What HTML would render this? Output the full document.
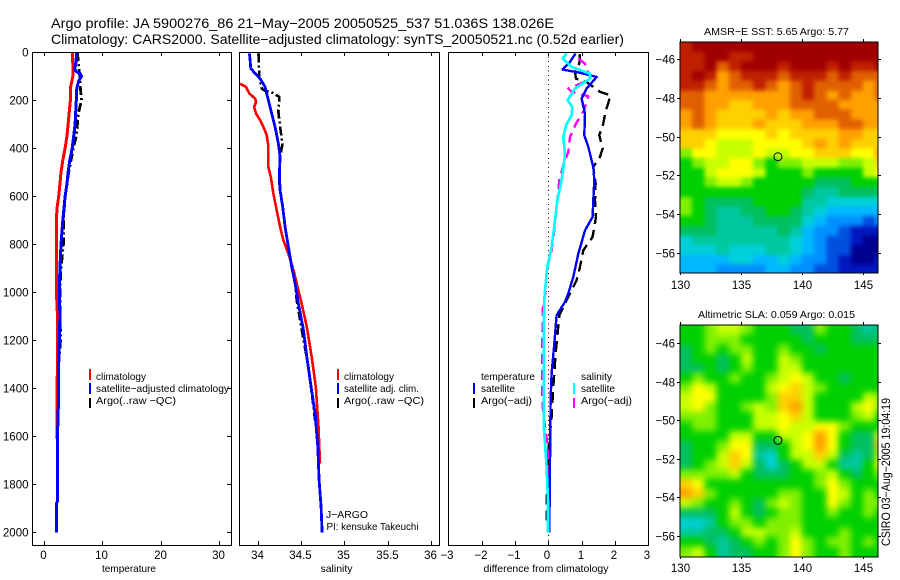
<!DOCTYPE html>
<html lang="en">
<head>
<meta charset="utf-8">
<title>Argo profile 5900276_86</title>
<style>
html,body{margin:0;padding:0;background:#fff;}
svg{display:block;}
text{font-family:"Liberation Sans",sans-serif;fill:#000;}
.t10{font-size:10.5px;}
.t11{font-size:11.5px;}
.t14{font-size:14px;}
</style>
</head>
<body>
<svg id="chart" xmlns="http://www.w3.org/2000/svg" width="900" height="580" viewBox="0 0 900 580">
  <rect x="0" y="0" width="900" height="580" fill="#fff"/>
  <text class="t14" x="51" y="28" textLength="503" lengthAdjust="spacingAndGlyphs">Argo profile: JA 5900276_86 21−May−2005 20050525_537 51.036S 138.026E</text>
  <text class="t14" x="51" y="44" textLength="573" lengthAdjust="spacingAndGlyphs">Climatology: CARS2000. Satellite−adjusted climatology: synTS_20050521.nc (0.52d earlier)</text>

  <g id="panels"></g>
  <g id="maps"></g>

  <text class="t10" x="129" y="572" text-anchor="middle" textLength="54" lengthAdjust="spacingAndGlyphs">temperature</text>
  <text class="t10" x="336.5" y="572" text-anchor="middle">salinity</text>
  <text class="t10" x="546" y="572" text-anchor="middle" textLength="125" lengthAdjust="spacingAndGlyphs">difference from climatology</text>

  <g>
    <rect x="89" y="369" width="2" height="11" fill="#f00"/>
    <rect x="89" y="383" width="2" height="11" fill="#00f"/>
    <rect x="89" y="398" width="2" height="10" fill="#000"/>
    <text class="t10" x="96" y="380" textLength="50" lengthAdjust="spacingAndGlyphs">climatology</text>
    <text class="t10" x="96" y="392" textLength="133" lengthAdjust="spacingAndGlyphs">satellite−adjusted climatology</text>
    <text class="t10" x="96" y="404" textLength="80" lengthAdjust="spacingAndGlyphs">Argo(..raw −QC)</text>
  </g>
  <g>
    <rect x="337" y="369" width="2" height="11" fill="#f00"/>
    <rect x="337" y="383" width="2" height="11" fill="#00f"/>
    <rect x="337" y="398" width="2" height="10" fill="#000"/>
    <text class="t10" x="344" y="380" textLength="50" lengthAdjust="spacingAndGlyphs">climatology</text>
    <text class="t10" x="344" y="392" textLength="75" lengthAdjust="spacingAndGlyphs">satellite adj. clim.</text>
    <text class="t10" x="344" y="404" textLength="80" lengthAdjust="spacingAndGlyphs">Argo(..raw −QC)</text>
    <text class="t10" x="326" y="518" textLength="42" lengthAdjust="spacingAndGlyphs">J−ARGO</text>
    <text class="t10" x="326.5" y="530" textLength="92" lengthAdjust="spacingAndGlyphs">PI: kensuke Takeuchi</text>
  </g>
  <g>
    <text class="t10" x="481" y="380" textLength="54" lengthAdjust="spacingAndGlyphs">temperature</text>
    <rect x="473" y="383" width="2" height="11" fill="#00f"/>
    <rect x="473" y="398" width="2" height="10" fill="#000"/>
    <text class="t10" x="481" y="392" textLength="34" lengthAdjust="spacingAndGlyphs">satellite</text>
    <text class="t10" x="481" y="404" textLength="51" lengthAdjust="spacingAndGlyphs">Argo(−adj)</text>
    <text class="t10" x="581" y="380" textLength="31" lengthAdjust="spacingAndGlyphs">salinity</text>
    <rect x="573" y="383" width="2" height="11" fill="#0ff"/>
    <rect x="573" y="398" width="2" height="10" fill="#f0f"/>
    <text class="t10" x="581" y="392" textLength="34" lengthAdjust="spacingAndGlyphs">satellite</text>
    <text class="t10" x="581" y="404" textLength="51" lengthAdjust="spacingAndGlyphs">Argo(−adj)</text>
  </g>

  <text class="t10" x="776.5" y="35" text-anchor="middle" textLength="145" lengthAdjust="spacingAndGlyphs">AMSR−E SST: 5.65 Argo: 5.77</text>
  <text class="t10" x="776.5" y="318" text-anchor="middle" textLength="157" lengthAdjust="spacingAndGlyphs">Altimetric SLA: 0.059 Argo: 0.015</text>
  <text class="t11" transform="translate(890,546) rotate(-90)" x="0" y="0" textLength="148" lengthAdjust="spacingAndGlyphs">CSIRO 03−Aug−2005 19:04:19</text>
</svg>

<script>
// ---------- temperature panel data ----------
const tempClimDepth = [0,50,100,150,200,250,300,350,400,450,500,550,600,650,700,800,900,1000,1100,1300,1400,1600];
const tempClimValues = [4.95,5.0,5.0,4.6,4.6,4.4,4.2,4.0,3.7,3.3,3.0,2.8,2.6,2.3,2.2,2.2,2.2,2.2,2.4,2.4,2.3,2.3];
const tempSatDepth = [0,50,70,80,90,100,120,150,200,300,400,450,500,550,600,650,700,800,850,900,1000,1100,1200,1300,1450,1500,1600,1700,1870,1880,2000];
const tempSatValues = [5.7,5.5,5.3,5.6,6.3,6.5,6.0,5.7,5.6,5.4,4.9,4.5,4.2,4.0,3.7,3.5,3.3,3.0,2.9,2.8,2.7,2.8,2.7,2.6,2.6,2.5,2.4,2.4,2.4,2.2,2.2];
const tempArgoDepth = [0,100,150,200,250,300,350,400,450,500,600,700,800,900,1000,1200,1300,1600,1620];
const tempArgoValues = [5.8,6.2,6.3,6.5,6.0,5.8,5.6,5.1,4.7,4.3,3.7,3.4,3.4,3.0,2.8,2.9,2.6,2.3,2.3];

// ---------- salinity panel data ----------
const salClimDepth = [131,144,172,193,207,228,256,283,311,346,394,478,519,589,658,728,783,839,908,992,1033,1144,1269,1394,1561,1714];
const salClimValues = [33.798,33.866,33.905,33.971,33.983,33.96,33.983,34.03,34.067,34.106,34.125,34.125,34.152,34.183,34.221,34.26,34.298,34.356,34.414,34.471,34.5,34.568,34.625,34.672,34.703,34.72];
const salSatDepth = [5,68,110,144,200,256,311,381,436,506,575,644,728,811,894,964,1047,1158,1269,1394,1505,1644,1783,1894,2000];
const salSatValues = [33.906,33.921,34.029,34.087,34.125,34.163,34.202,34.24,34.26,34.252,34.26,34.29,34.317,34.356,34.394,34.433,34.471,34.53,34.568,34.618,34.664,34.695,34.71,34.733,34.745];
const salArgoDepth = [5,103,151,161,165,186,249,311,381,436,547,617,728,811,894,978,1033,1158,1311,1478,1589,1658];
const salArgoValues = [34.01,34.02,34.047,34.087,34.152,34.252,34.24,34.26,34.287,34.26,34.252,34.279,34.317,34.356,34.394,34.44,34.452,34.51,34.587,34.645,34.683,34.703];

// ---------- difference panel data ----------
const diffTempSatDepth = [5,40,72,85,103,151,193,256,346,394,478,533,617,686,742,839,936,1005,1040,1096,1214,1339,1450,1589,2000];
const diffTempSatValues = [0.82,0.65,0.43,0.95,1.45,1.15,1.0,1.1,1.08,1.2,1.35,1.38,1.35,1.33,1.1,0.9,0.75,0.6,0.5,0.25,0.18,0.1,0.07,0.06,0.03];
const diffTempArgoDepth = [8,47,82,110,124,165,179,256,297,346,401,436,478,547,617,686,769,825,894,950,1019,1096,1172,1256,1394,1519,1631,1880,1950];
const diffTempArgoValues = [0.95,0.93,0.8,0.83,1.15,1.55,1.87,1.7,1.65,1.53,1.63,1.55,1.35,1.42,1.4,1.43,1.33,1.05,0.95,0.85,0.6,0.33,0.28,0.22,0.15,0.1,0.02,-0.05,-0.05];
const diffSalSatDepth = [5,26,61,89,110,151,200,228,262,304,353,429,533,617,700,811,894,992,1033,1172,1547,1631,1728,1867,2000];
const diffSalSatValues = [0.55,0.43,0.7,1.25,1.25,0.8,0.58,0.72,0.7,0.53,0.45,0.5,0.4,0.27,0.2,0.1,-0.03,-0.1,-0.12,-0.14,-0.14,-0.1,-0.05,-0.01,-0.01];
const diffSalArgoDepth = [26,47,75,96,124,138,151,165,183,242,297,353,415,471,533,644,742,825,908,1005,1075,1436,1519,1617,1755,1978];
const diffSalArgoValues = [0.9,1.1,1.15,1.3,1.05,0.85,0.6,0.7,1.2,1.07,0.83,0.65,0.6,0.45,0.33,0.25,0.18,0.1,-0.05,-0.09,-0.17,-0.19,-0.14,-0.04,0.03,0.03];

// ---------- axis ticks ----------
const depthTicks = [0,200,400,600,800,1000,1200,1400,1600,1800,2000];
const tempTicks = [0,10,20,30];
const salTicks = [34,34.5,35,35.5,36];
const salTickLabels = ["34","34.5","35","35.5","36"];
const diffTicks = [-3,-2,-1,0,1,2,3];
const diffTickLabels = ["−3","−2","−1","0","1","2","3"];
const lonTicks = [130,135,140,145];
const latTicks = [-46,-48,-50,-52,-54,-56];
const latTickLabels = ["−46","−48","−50","−52","−54","−56"];
const floatLon = 138.026;
const floatLat = -51.036;

// ---------- map grids: 1 deg lon by 0.5 deg lat, colour-level values ----------
const sstGrid = [
[15,16,16,16,16,16,16,16,16,16,16,16,16,16,16,16,16],
[15,15,16,16,15,15,16,16,16,16,16,16,16,16,16,16,16],
[15,15,16,14,15,16,16,16,15,16,16,16,15,16,15,15,16],
[15,16,15,13,14,15,15,15,14,15,15,15,14,15,14,14,14],
[15,15,14,13,14,14,15,14,13,14,15,14,14,14,14,13,14],
[14,14,13,13,13,13,13,13,13,14,15,14,13,14,13,13,14],
[14,14,13,13,12,12,13,13,13,14,14,14,14,13,13,13,13],
[13,14,13,12,12,12,12,13,12,13,13,14,14,14,13,13,13],
[13,14,13,12,12,12,13,12,12,12,13,13,13,14,14,13,13],
[12,12,12,11,11,11,11,12,11,12,12,12,12,13,13,12,12],
[12,12,11,10,10,10,11,11,11,11,12,13,12,13,12,12,12],
[9,11,11,10,10,10,11,10,10,11,11,12,12,12,11,11,13],
[8,9,10,10,11,11,9,8,9,9,10,10,10,9,9,10,12],
[8,8,10,11,11,11,10,8,8,8,9,8,8,8,8,10,11],
[8,8,9,10,10,9,8,8,8,8,8,7,7,7,8,8,8],
[8,8,8,8,8,8,8,8,8,8,7,6,6,7,7,7,7],
[9,8,7,7,7,7,8,8,8,8,6,6,5,5,5,5,5],
[9,8,7,6,6,7,7,8,8,7,6,5,4,4,4,4,4],
[8,8,7,6,6,6,7,7,7,7,5,4,3,3,3,2,3],
[7,7,7,6,6,6,6,6,7,6,4,3,3,2,1,1,1],
[5,6,6,6,6,6,6,6,6,5,4,3,2,2,1,0,0],
[5,5,5,6,5,5,5,6,6,5,4,3,2,2,0,0,0],
[4,4,4,4,5,5,4,4,5,4,3,3,2,1,0,0,1],
[4,4,4,3,3,3,3,4,4,3,3,2,2,1,1,1,1]
];
const slaGrid = [
[8,8,9,10,10,9,8,8,8,7,7,9,8,8,7,6,7],
[8,8,9,9,9,8,8,8,8,8,7,8,8,8,7,7,7],
[7,8,9,8,9,9,8,8,9,8,8,7,8,8,8,8,8],
[7,8,8,7,8,10,8,8,10,9,8,8,8,8,8,8,8],
[7,7,8,7,8,9,8,8,10,10,8,8,8,8,8,8,8],
[8,9,8,8,9,8,8,9,10,11,10,8,8,7,8,8,8],
[9,11,10,8,8,8,8,10,11,12,10,9,8,8,8,8,8],
[10,11,11,8,8,8,8,9,12,12,10,8,8,8,8,10,9],
[10,11,9,8,8,9,10,9,12,13,10,8,8,8,10,11,9],
[9,9,9,8,8,8,10,10,11,12,10,8,8,8,9,10,8],
[8,9,9,8,8,8,10,10,11,10,10,11,11,9,8,8,8],
[8,8,8,8,10,10,8,8,10,10,11,13,11,8,7,7,11],
[7,8,8,9,11,11,7,7,8,10,11,13,11,8,7,7,12],
[7,8,8,10,12,11,6,5,8,10,10,12,10,7,6,7,10],
[7,8,9,10,12,10,7,5,7,8,10,10,8,6,6,8,11],
[9,9,9,9,10,8,7,7,7,8,8,9,10,8,7,8,9],
[12,11,8,8,8,8,8,8,8,8,8,9,11,9,8,8,8],
[13,12,9,8,8,8,8,8,9,9,8,8,11,10,8,9,8],
[10,9,8,8,9,8,7,9,10,9,8,8,11,9,8,9,9],
[7,7,7,8,10,8,7,8,9,9,8,8,9,8,8,9,8],
[5,5,6,8,9,9,8,9,9,9,8,8,8,8,8,8,8],
[6,6,7,7,8,10,10,9,9,10,8,8,8,9,8,8,8],
[8,8,7,6,7,8,9,8,9,11,9,8,9,9,8,9,8],
[9,10,8,6,7,7,8,8,9,11,9,8,8,9,8,8,8]
];
const colorStops = ["#000090","#0018c0","#0050e0","#0090ff","#00b8ff","#00d0d8","#00c8a0","#00c060","#00d000","#80f000","#c8ff00","#ffff00","#ffd000","#ffa000","#e06000","#c02000","#a00000"];

// ---------- helpers ----------
const NS = "http://www.w3.org/2000/svg";
const panelsGroup = document.getElementById("panels");
const mapsGroup = document.getElementById("maps");

function make(tag, attrs, parent) {
  const el = document.createElementNS(NS, tag);
  Object.keys(attrs).forEach(function (k) { el.setAttribute(k, attrs[k]); });
  parent.appendChild(el);
  return el;
}
function depthY(d) { return 52.3 + d * 0.24; }

const tempX = function (v) { return 43.5 + v * 5.85; };
const salX = function (v) { return 257.6 + (v - 34) * 86.6; };
const diffX = function (v) { return 548.3 + v * 33.33; };

function drawBox(left, right, top, bottom, name, parent) {
  const box = make("rect", { x: left + 0.5, y: top + 0.5, width: right - left, height: bottom - top, fill: "none", stroke: "#000", "stroke-width": 1, "shape-rendering": "crispEdges" }, parent);
  
  
}
function tickLine(x1, y1, x2, y2, parent) {
  const t = make("line", { x1: x1, y1: y1, x2: x2, y2: y2, stroke: "#000", "stroke-width": 1, "shape-rendering": "crispEdges" }, parent);
  
  
}
function tickLabel(str, x, y, anchor, parent) {
  const t = make("text", { x: x, y: y, "text-anchor": anchor, class: "t11" }, parent);
  t.textContent = str;
  
  
}
function drawLine(depths, values, xFn, color, width, dash, name, parent) {
  const pts = depths.map(function (d, i) { return xFn(values[i]).toFixed(1) + "," + depthY(d).toFixed(1); }).join(" ");
  const attrs = { points: pts, fill: "none", stroke: color, "stroke-width": width, "shape-rendering": "crispEdges", "stroke-linejoin": "round" };
  if (dash) { attrs["stroke-dasharray"] = dash; }
  const line = make("polyline", attrs, parent);
  
  
}

// ---------- temperature panel ----------
const tempPanel = make("g", {}, panelsGroup);


drawLine(tempArgoDepth, tempArgoValues, tempX, "#000", 2.8, "9 3 2 3", "temperature-argo-line", tempPanel);
drawLine(tempClimDepth, tempClimValues, tempX, "#f00", 3, null, "temperature-climatology-line", tempPanel);
drawLine(tempSatDepth, tempSatValues, tempX, "#00f", 3, null, "temperature-satellite-line", tempPanel);
drawBox(32, 231, 52, 545, "temperature-axes-box", tempPanel);
depthTicks.forEach(function (d) {
  const y = Math.round(depthY(d)) + 0.5;
  tickLine(32, y, 36, y, tempPanel);
  tickLine(227, y, 231, y, tempPanel);
  tickLabel(String(d), 28.5, y + 4, "end", tempPanel);
});
tempTicks.forEach(function (v) {
  const x = Math.round(tempX(v)) + 0.5;
  tickLine(x, 52, x, 56, tempPanel);
  tickLine(x, 541, x, 545, tempPanel);
  tickLabel(String(v), x - 1, 559, "middle", tempPanel);
});

// ---------- salinity panel ----------
const salPanel = make("g", {}, panelsGroup);


drawLine(salArgoDepth, salArgoValues, salX, "#000", 2.6, "9 3 2 3", "salinity-argo-line", salPanel);
drawLine(salClimDepth, salClimValues, salX, "#f00", 2.6, null, "salinity-climatology-line", salPanel);
drawLine(salSatDepth, salSatValues, salX, "#00f", 2.8, null, "salinity-satellite-line", salPanel);
drawBox(239, 439, 52, 545, "salinity-axes-box", salPanel);
salTicks.forEach(function (v, i) {
  const x = Math.round(salX(v)) + 0.5;
  tickLine(x, 52, x, 56, salPanel);
  tickLine(x, 541, x, 545, salPanel);
  tickLabel(salTickLabels[i], x - 1, 559, "middle", salPanel);
});

// ---------- difference panel ----------
const diffPanel = make("g", {}, panelsGroup);


const zeroLine = make("line", { x1: 548.5, y1: 52, x2: 548.5, y2: 545, stroke: "#000", "stroke-width": 1, "stroke-dasharray": "1 3.6", "shape-rendering": "crispEdges" }, diffPanel);


drawLine(diffTempArgoDepth, diffTempArgoValues, diffX, "#000", 2.4, "11 6", "difference-temperature-argo-line", diffPanel);
drawLine(diffSalArgoDepth, diffSalArgoValues, diffX, "#f0f", 2.4, "10 6", "difference-salinity-argo-line", diffPanel);
drawLine(diffTempSatDepth, diffTempSatValues, diffX, "#00f", 2.4, null, "difference-temperature-satellite-line", diffPanel);
drawLine(diffSalSatDepth, diffSalSatValues, diffX, "#0ff", 2.6, null, "difference-salinity-satellite-line", diffPanel);
drawBox(448, 648, 52, 545, "difference-axes-box", diffPanel);
diffTicks.forEach(function (v, i) {
  const x = Math.round(diffX(v)) + 0.5;
  if (Math.abs(v) < 3) {
    tickLine(x, 52, x, 56, diffPanel);
    tickLine(x, 541, x, 545, diffPanel);
  }
  tickLabel(diffTickLabels[i], x - 1.5, 559, "middle", diffPanel);
});

// ---------- maps ----------
function levelColor(v) {
  const clamped = Math.max(0, Math.min(colorStops.length - 1, v));
  const lo = Math.floor(clamped);
  const hi = Math.min(colorStops.length - 1, lo + 1);
  const f = clamped - lo;
  const a = colorStops[lo], b = colorStops[hi];
  let out = "rgb(";
  for (let i = 0; i < 3; i++) {
    const ca = parseInt(a.substr(1 + i * 2, 2), 16);
    const cb = parseInt(b.substr(1 + i * 2, 2), 16);
    out += Math.round(ca + (cb - ca) * f) + (i < 2 ? "," : ")");
  }
  return out;
}

function drawMap(grid, top, bottom, lat46Y, pxPerDeg, labelY, name, clipId, blurPx) {
  const left = 680, right = 878;
  const lonX = function (lon) { return 680 + (lon - 130) * 12.2; };
  const latY = function (lat) { return lat46Y + (-46 - lat) * pxPerDeg; };
  const g = make("g", {}, mapsGroup);
  
  
  const defs = make("defs", {}, g);
  const clip = make("clipPath", { id: clipId }, defs);
  make("rect", { x: left, y: top, width: right - left, height: bottom - top }, clip);
  const filterId = clipId + "-blur";
  const filter = make("filter", { id: filterId, x: "-15%", y: "-15%", width: "130%", height: "130%", "color-interpolation-filters": "sRGB" }, defs);
  make("feGaussianBlur", { stdDeviation: blurPx }, filter);
  const clipped = make("g", { "clip-path": "url(#" + clipId + ")" }, g);
  const cells = make("g", { filter: "url(#" + filterId + ")" }, clipped);
  
  
  const topLat = -46 - (top - lat46Y) / pxPerDeg;
  const rows = grid.length, cols = grid[0].length;
  // edge cells repeat outward so the smoothing does not fade at the frame
  for (let r = -2; r < rows + 2; r++) {
    for (let c = -2; c < cols + 2; c++) {
      const v = grid[Math.max(0, Math.min(rows - 1, r))][Math.max(0, Math.min(cols - 1, c))];
      const x0 = lonX(130 + c), x1 = lonX(131 + c);
      const y0 = latY(topLat - 0.5 * r), y1 = latY(topLat - 0.5 * (r + 1));
      const cell = make("rect", { x: x0.toFixed(2), y: y0.toFixed(2), width: (x1 - x0 + 0.4).toFixed(2), height: (y1 - y0 + 0.4).toFixed(2), fill: levelColor(v), "shape-rendering": "crispEdges" }, cells);
      
      
    }
  }
  drawBox(left - 0.5, right - 0.5, top - 0.5, bottom - 0.5, name + "-box", g);
  lonTicks.forEach(function (lon) {
    const x = Math.round(lonX(lon)) + 0.5;
    tickLine(x, top - 3, x, top, g);
    tickLine(x, bottom, x, bottom + 2, g);
    tickLabel(String(lon), x, labelY, "middle", g);
  });
  latTicks.forEach(function (lat, i) {
    const y = Math.round(latY(lat)) + 0.5;
    tickLine(left - 3, y, left, y, g);
    tickLine(right, y, right + 3, y, g);
    tickLabel(latTickLabels[i], left - 5, y + 4, "end", g);
  });
  const marker = make("circle", { cx: lonX(floatLon), cy: latY(floatLat), r: 4, fill: "none", stroke: "#000", "stroke-width": 1 }, g);
  
  
}

drawMap(sstGrid, 42, 273, 59.3, 19.35, 289, "sst-map", "clip-sst", 2);
drawMap(slaGrid, 325, 557, 343.3, 19.27, 572, "sla-map", "clip-sla", 3.5);
</script>
</body>
</html>
